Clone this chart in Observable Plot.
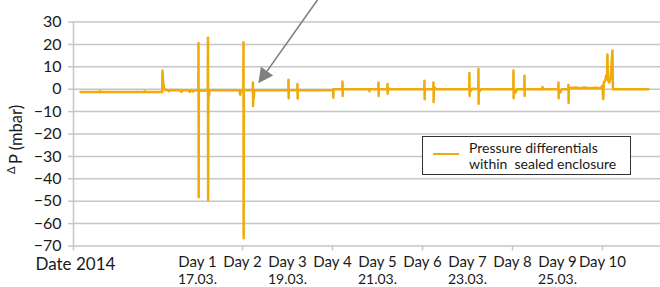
<!DOCTYPE html>
<html><head><meta charset="utf-8">
<script src="https://cdn.jsdelivr.net/npm/d3@7"></script>
<script src="https://cdn.jsdelivr.net/npm/@observablehq/plot@0.6"></script>
<style>
body{margin:0;background:#fff;font-family:Lato,sans-serif;}
#wrap{position:relative;width:660px;height:287px;overflow:hidden;}
.legend{position:absolute;left:422px;top:136px;width:209px;height:39px;border:1.3px solid #333;background:#fff;box-sizing:border-box;}
.legend .sw{position:absolute;left:10px;top:16px;width:26px;height:0;border-top:2.5px solid #F0AA0A;}
.legend .tx{position:absolute;left:46px;top:3px;font-size:14px;line-height:16px;color:#1a1a1a;white-space:pre;}
</style></head><body><div id="wrap"></div>
<script>
// time in days (Day 2 = 2), pressure differential in mbar
const t = [-1.60,-1.18,-1.175,-1.17,-0.18,-0.175,-0.17,0.215,0.222,0.235,0.26,0.29,0.33,0.36,0.39,0.62,0.64,0.67,0.80,0.83,0.86,0.90,0.93,
  1.018,1.022,1.026,1.030,1.10,1.228,1.232,1.236,1.240,1.245,1.255,1.265,1.93,1.95,1.97,
  2.018,2.022,2.026,2.030,2.10,2.228,2.232,2.236,2.240,2.250,2.260,
  3.018,3.022,3.026,3.030,3.218,3.222,3.226,3.230,
  4.015,4.018,4.022,4.218,4.222,4.226,4.230,4.818,4.822,4.826,
  5.018,5.022,5.026,5.030,5.218,5.222,5.226,5.232,5.26,
  6.040,6.044,6.048,6.052,6.240,6.244,6.248,6.252,6.27,6.29,
  7.040,7.044,7.048,7.052,7.07,7.10,7.240,7.244,7.248,7.252,7.27,7.30,
  8.018,8.022,8.026,8.030,8.07,8.10,8.263,8.267,8.271,8.275,8.660,8.667,8.674,
  9.018,9.022,9.026,9.030,9.06,9.10,9.240,9.244,9.248,9.252,9.30,9.40,9.50,9.60,9.70,9.85,9.95,
  10.00,10.018,10.03,10.06,10.08,10.10,10.111,10.12,10.15,10.18,10.222,10.232,11.02];
const dp = [-1.3,-1.3,-0.8,-1.3,-1.3,-0.8,-1.3,-1.3,8.3,3,0.2,-0.4,-0.3,-0.9,-0.4,-0.5,-1.2,-0.5,-0.5,-1.2,-0.4,-1.1,-0.5,
  -0.5,20.6,-48.2,-0.5,-0.7,-0.5,23,-49.5,-6.5,-0.5,-3,-0.5,-0.5,-2.5,-0.5,
  -0.5,21,-66.5,-0.5,-0.5,-0.5,3,-7.5,-0.5,-4,-0.5,
  -0.5,4.2,-4,-0.5,-0.5,2.3,-4.2,-0.5,
  -0.5,-3.8,0,0,3.4,-3,0,0,-1,0,
  0,3,-3,0,0,2.3,-2,0.6,0,
  0,3.8,-4.5,0,0,3,-5.7,0,0.8,0,
  0,7.2,-3,0,-0.8,0.2,0,9,-6.5,0,-1,0,
  0,8.3,-4,0,-1.5,0,0,6,-3,0,0,1,0,
  0,3,-4,0,-1.5,0,0,2,-6,0.8,0.5,0.8,0.4,0.8,0.4,0.6,0.3,
  1.5,-4.5,3,3.8,6,4.5,15.5,4.5,3,5,17.3,0,0];
const yTicks = [30,20,10,0,-10,-20,-30,-40,-50,-60,-70];
const xTickDays = [2,4,6,8,10];
const dayLabels = ["Day 1","Day 2","Day 3","Day 4","Day 5","Day 6","Day 7","Day 8","Day 9","Day 10"];
const dayLabelDays = [1,2,3,4,5,6,7,8,9,10];
const dateLabels = ["17.03.","19.03.","21.03.","23.03.","25.03."];
const dateLabelDays = [1,3,5,7,9];
const xDomain = [-1.756, 11.29];
const yDomain = [-70, 30];

const series = t.map((d,i)=>({t:d, v:dp[i]}));
const dayLab = dayLabels.map((s,i)=>({d:dayLabelDays[i], s}));
const dateLab = dateLabels.map((s,i)=>({d:dateLabelDays[i], s}));

const plot = Plot.plot({
  width:660, height:287,
  marginLeft:73, marginRight:0, marginTop:21.5, marginBottom:41.5,
  style:{fontFamily:"Lato, sans-serif", color:"#1a1a1a", background:"#fff"},
  x:{domain:xDomain},
  y:{domain:yDomain},
  marks:[
    Plot.ruleY(yTicks, {stroke:"#c6c6c6", strokeWidth:1.5}),
    Plot.ruleX([xDomain[0]], {stroke:"#c6c6c6", strokeWidth:1.5}),
    Plot.axisY({ticks:yTicks, tickSize:5, tickPadding:7, stroke:"#c6c6c6", strokeWidth:1.5, fontSize:16, fill:"#1a1a1a", label:null}),
    Plot.axisX({ticks:[xDomain[0], ...xTickDays], tickSize:5, tickFormat:()=>"", stroke:"#c6c6c6", strokeWidth:1.5, label:null}),
    Plot.line(series, {x:"t", y:"v", stroke:"#F0AA0A", strokeWidth:2.5, curve:"linear"}),
    Plot.text(dayLab, {x:"d", text:"s", frameAnchor:"bottom", lineAnchor:"bottom", dy:20.5, fontSize:15, fill:"#1a1a1a"}),
    Plot.text(dateLab, {x:"d", text:"s", frameAnchor:"bottom", lineAnchor:"bottom", dy:38, fontSize:14, fill:"#1a1a1a"}),
    Plot.text(["Date 2014"], {frameAnchor:"bottom-left", textAnchor:"start", lineAnchor:"bottom", dx:-38, dy:24, fontSize:17, fill:"#1a1a1a"})
  ]
});
document.getElementById("wrap").appendChild(plot);

// annotations: y label and arrow
const svg = d3.select(plot);
const xs = plot.scale("x"), ys = plot.scale("y");
const ylab = svg.append("g").attr("transform","translate(22,164) rotate(-90)").attr("text-anchor","start").attr("font-family","Lato, sans-serif");
ylab.append("text").attr("font-size",16.5).attr("fill","#1a1a1a").attr("x",0).attr("y",0).text("P (mbar)");
ylab.append("text").attr("font-size",11).attr("fill","#1a1a1a").attr("x",-10).attr("y",-7).text("Δ");

const tip = [xs.apply(2.363), ys.apply(2.4)];
const start = [xs.apply(3.737), ys.apply(41.3)];
const dx = start[0]-tip[0], dy = start[1]-tip[1], L = Math.hypot(dx,dy);
const ux = dx/L, uy = dy/L, hl = 15, hw = 7.5;
const bx = tip[0]+ux*hl, by = tip[1]+uy*hl;
svg.append("line").attr("x1",start[0]).attr("y1",start[1]).attr("x2",bx).attr("y2",by).attr("stroke","#7f7f7f").attr("stroke-width",1.6);
svg.append("polygon").attr("points",[[tip[0],tip[1]],[bx-uy*hw,by+ux*hw],[bx+uy*hw,by-ux*hw]].map(p=>p.join(",")).join(" ")).attr("fill","#7f7f7f");

const lg = document.createElement("div");
lg.className = "legend";
lg.innerHTML = '<div class="sw"></div><div class="tx">Pressure differentials\nwithin  sealed enclosure</div>';
document.getElementById("wrap").appendChild(lg);
</script></body></html>
